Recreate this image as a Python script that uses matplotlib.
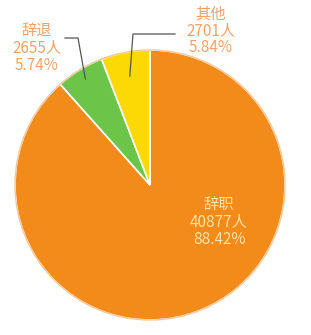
import numpy as np
import matplotlib
matplotlib.use("Agg")
import matplotlib.pyplot as plt

plt.rcParams["font.family"] = ["Noto Sans CJK SC", "DejaVu Sans"]

# ── data ──────────────────────────────────────────────
labels = ["辞职", "辞退", "其他"]
counts = [40877, 2655, 2701]
shares = [88.42, 5.74, 5.84]
colors = ["#F38B1B", "#6CC449", "#FCD804"]

W, H = 311, 335
CX, CY, R = 150, H - 185, 135

fig = plt.figure(figsize=(W / 100, H / 100), dpi=100)
ax = fig.add_axes([0, 0, 1, 1])
ax.set_xlim(0, W)
ax.set_ylim(0, H)
ax.set_aspect("equal")
ax.axis("off")

# orange clockwise from 12 o'clock, then green, then yellow
wedges, _ = ax.pie(counts, colors=colors, startangle=90, counterclock=False,
                   center=(CX, CY), radius=R,
                   wedgeprops=dict(edgecolor="white", linewidth=1.2))
ax.add_patch(plt.Circle((CX, CY), R, fill=False, edgecolor="#F6C79A", lw=1.0))
ax.set_xlim(0, W)
ax.set_ylim(0, H)

lab_out = "#EFA36A"
lab_in = "#FDE3A6"
fs = 11
fw = "light"
ls = 1.0


def point_at(w, frac):
    ang = np.deg2rad((w.theta1 + w.theta2) / 2)
    return CX + frac * R * np.cos(ang), CY + frac * R * np.sin(ang)


# 辞退 leader line
x0, y0 = point_at(wedges[1], 0.92)
ax.plot([x0, 78, 65], [y0, H - 38, H - 38], color="#555555", lw=0.9)
ax.text(37, H - 48, f"{labels[1]}\n{counts[1]}人\n{shares[1]:.2f}%",
        ha="center", va="center", color=lab_out, fontsize=fs,
        fontweight=fw, linespacing=ls)

# 其他 leader line
x0, y0 = point_at(wedges[2], 0.82)
ax.plot([x0, 133, 175], [y0, H - 34, H - 34], color="#555555", lw=0.9)
ax.text(211, H - 31, f"{labels[2]}\n{counts[2]}人\n{shares[2]:.2f}%",
        ha="center", va="center", color=lab_out, fontsize=fs,
        fontweight=fw, linespacing=ls)

# 辞职 inside label
ax.text(219, H - 222, f"{labels[0]}\n{counts[0]}人\n{shares[0]:.2f}%",
        ha="center", va="center", color=lab_in, fontsize=fs,
        fontweight=fw, linespacing=ls)

fig.savefig("out.png", dpi=100, facecolor="white")
